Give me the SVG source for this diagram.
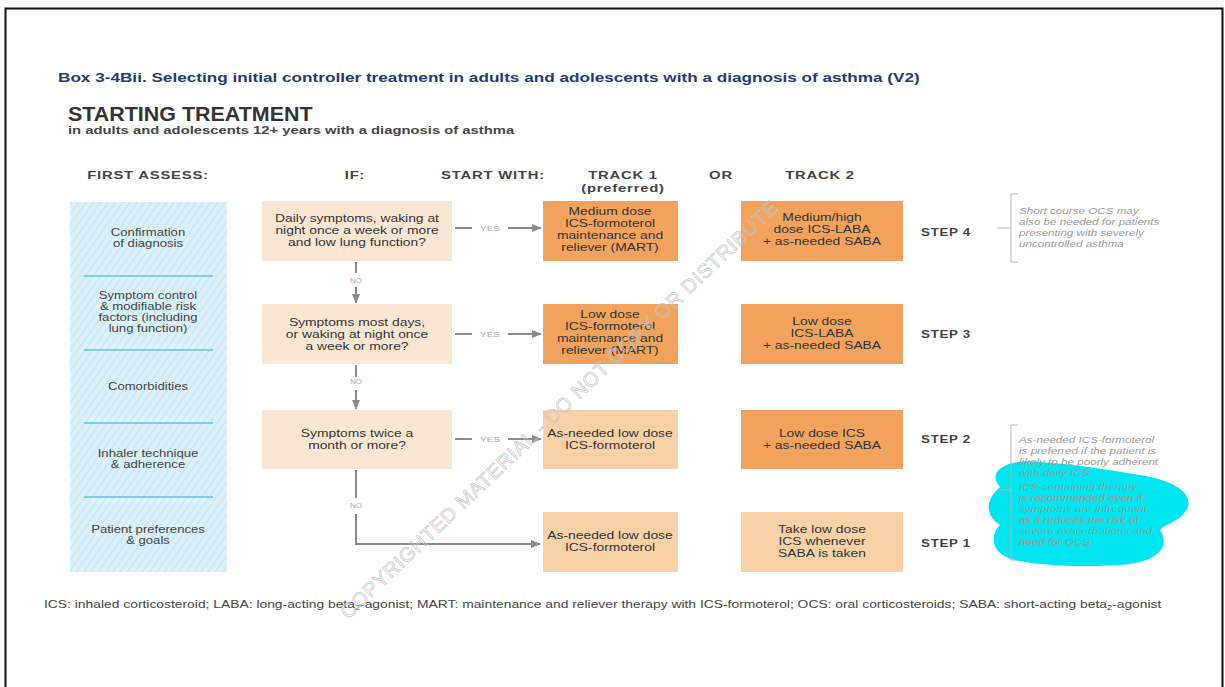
<svg xmlns="http://www.w3.org/2000/svg" width="1225" height="687" viewBox="0 0 1225 687">
<defs>
<pattern id="hatch" width="6" height="6" patternUnits="userSpaceOnUse" patternTransform="rotate(35)">
<rect width="6" height="6" fill="#dcf0fa"/>
<line x1="0" y1="0" x2="0" y2="6" stroke="#c3e4f4" stroke-width="2"/>
</pattern>
<marker id="arr" markerWidth="10" markerHeight="8" refX="9" refY="4" orient="auto" markerUnits="userSpaceOnUse">
<path d="M0,0 L10,4 L0,8 Z" fill="#8a8a8a"/>
</marker>
<style>
text{font-family:"Liberation Sans",Arial,sans-serif}
.box{fill:#333;font-size:11px;text-anchor:middle}
.hdr{fill:#444;font-size:11.5px;font-weight:bold;text-anchor:middle;letter-spacing:0.6px}
.step{fill:#444;font-size:11.5px;font-weight:bold;text-anchor:middle;letter-spacing:0.6px}
.lab{fill:#444;font-size:10.5px;text-anchor:middle}
.q{fill:#fbe6d3}
.dark{fill:#f1a25c}
.light{fill:#f8d2a6}
.yn{fill:#aaa;font-size:8px;text-anchor:middle}
.con{stroke:#8a8a8a;stroke-width:2;fill:none}
.sep{stroke:#5fc3e4;stroke-width:1.5}
.note{fill:#9a9a9a;font-size:8.5px;font-style:italic}
.br{stroke:#b5b5b5;stroke-width:1;fill:none}
</style>
</defs>
<rect x="0" y="0" width="1225" height="687" fill="#fff"/>
<path d="M5.5,700 V8.5 H1222.5 V700" fill="none" stroke="#111" stroke-width="2"/>

<g id="title">
<text transform="translate(58,82) scale(1.32,1)" font-size="13" font-weight="bold" fill="#1f3b78">Box 3-4Bii. Selecting initial controller treatment in adults and adolescents with a diagnosis of asthma (V2)</text>
<text transform="translate(68,121) scale(1.1,1)" font-size="19.5" font-weight="bold" fill="#333">STARTING TREATMENT</text>
<text transform="translate(68,134) scale(1.41,1)" font-size="10.5" font-weight="bold" fill="#444">in adults and adolescents 12+ years with a diagnosis of asthma</text>
</g>

<g id="headers">
<text class="hdr" transform="translate(148,179) scale(1.29,1)">FIRST ASSESS:</text>
<text class="hdr" transform="translate(355,179) scale(1.29,1)">IF:</text>
<text class="hdr" transform="translate(493,179) scale(1.29,1)">START WITH:</text>
<text class="hdr" transform="translate(623,179) scale(1.29,1)">TRACK 1</text>
<text class="hdr" transform="translate(623,192) scale(1.29,1)">(preferred)</text>
<text class="hdr" transform="translate(721,179) scale(1.29,1)">OR</text>
<text class="hdr" transform="translate(820,179) scale(1.29,1)">TRACK 2</text>
</g>

<g id="assess">
<rect x="70" y="202" width="157" height="370" fill="url(#hatch)"/>
<line class="sep" x1="84" y1="276" x2="213" y2="276"/>
<line class="sep" x1="84" y1="350" x2="213" y2="350"/>
<line class="sep" x1="84" y1="423" x2="213" y2="423"/>
<line class="sep" x1="84" y1="497" x2="213" y2="497"/>
<g transform="translate(148,0) scale(1.25,1)">
<text class="lab" x="0" y="236">Confirmation</text>
<text class="lab" x="0" y="247">of diagnosis</text>
<text class="lab" x="0" y="299">Symptom control</text>
<text class="lab" x="0" y="310">&amp; modifiable risk</text>
<text class="lab" x="0" y="321">factors (including</text>
<text class="lab" x="0" y="332">lung function)</text>
<text class="lab" x="0" y="390">Comorbidities</text>
<text class="lab" x="0" y="457">Inhaler technique</text>
<text class="lab" x="0" y="468">&amp; adherence</text>
<text class="lab" x="0" y="533">Patient preferences</text>
<text class="lab" x="0" y="544">&amp; goals</text>
</g>
</g>

<g id="connectors">
<line class="con" x1="356" y1="262" x2="356" y2="273"/>
<text class="yn" x="356" y="283">NO</text>
<line class="con" x1="356" y1="287" x2="356" y2="303" marker-end="url(#arr)"/>
<line class="con" x1="356" y1="365" x2="356" y2="377"/>
<text class="yn" x="356" y="384">NO</text>
<line class="con" x1="356" y1="390" x2="356" y2="409" marker-end="url(#arr)"/>
<line class="con" x1="356" y1="470" x2="356" y2="498"/>
<text class="yn" x="356" y="508">NO</text>
<path class="con" d="M356,514 V544 H540" marker-end="url(#arr)"/>
<line class="con" x1="455" y1="228" x2="472" y2="228"/>
<text class="yn" transform="translate(490,231) scale(1.25,1)">YES</text>
<line class="con" x1="508" y1="228" x2="541" y2="228" marker-end="url(#arr)"/>
<line class="con" x1="455" y1="334" x2="472" y2="334"/>
<text class="yn" transform="translate(490,337) scale(1.25,1)">YES</text>
<line class="con" x1="508" y1="334" x2="541" y2="334" marker-end="url(#arr)"/>
<line class="con" x1="455" y1="439" x2="472" y2="439"/>
<text class="yn" transform="translate(490,442) scale(1.25,1)">YES</text>
<line class="con" x1="508" y1="439" x2="541" y2="439" marker-end="url(#arr)"/>
</g>

<g id="if1"><rect class="q" x="262" y="201" width="190" height="60"/>
<g transform="translate(357,0) scale(1.26,1)">
<text class="box" x="0" y="222">Daily symptoms, waking at</text>
<text class="box" x="0" y="234">night once a week or more</text>
<text class="box" x="0" y="246">and low lung function?</text></g></g>
<g id="if2"><rect class="q" x="262" y="304" width="190" height="60"/>
<g transform="translate(357,0) scale(1.26,1)">
<text class="box" x="0" y="326">Symptoms most days,</text>
<text class="box" x="0" y="338">or waking at night once</text>
<text class="box" x="0" y="350">a week or more?</text></g></g>
<g id="if3"><rect class="q" x="262" y="410" width="190" height="59"/>
<g transform="translate(357,0) scale(1.26,1)">
<text class="box" x="0" y="437">Symptoms twice a</text>
<text class="box" x="0" y="449">month or more?</text></g></g>

<g id="t1s4"><rect class="dark" x="543" y="201" width="135" height="60"/>
<g transform="translate(610,0) scale(1.26,1)">
<text class="box" x="0" y="215">Medium dose</text>
<text class="box" x="0" y="227">ICS-formoterol</text>
<text class="box" x="0" y="239">maintenance and</text>
<text class="box" x="0" y="251">reliever (MART)</text></g></g>
<g id="t1s3"><rect class="dark" x="543" y="304" width="135" height="60"/>
<g transform="translate(610,0) scale(1.26,1)">
<text class="box" x="0" y="318">Low dose</text>
<text class="box" x="0" y="330">ICS-formoterol</text>
<text class="box" x="0" y="342">maintenance and</text>
<text class="box" x="0" y="354">reliever (MART)</text></g></g>
<g id="t1s2"><rect class="light" x="543" y="410" width="135" height="59"/>
<g transform="translate(610,0) scale(1.26,1)">
<text class="box" x="0" y="437">As-needed low dose</text>
<text class="box" x="0" y="449">ICS-formoterol</text></g></g>
<g id="t1s1"><rect class="light" x="543" y="512" width="135" height="60"/>
<g transform="translate(610,0) scale(1.26,1)">
<text class="box" x="0" y="539">As-needed low dose</text>
<text class="box" x="0" y="551">ICS-formoterol</text></g></g>

<g id="t2s4"><rect class="dark" x="741" y="201" width="162" height="60"/>
<g transform="translate(822,0) scale(1.26,1)">
<text class="box" x="0" y="221">Medium/high</text>
<text class="box" x="0" y="233">dose ICS-LABA</text>
<text class="box" x="0" y="245">+ as-needed SABA</text></g></g>
<g id="t2s3"><rect class="dark" x="741" y="304" width="162" height="60"/>
<g transform="translate(822,0) scale(1.26,1)">
<text class="box" x="0" y="325">Low dose</text>
<text class="box" x="0" y="337">ICS-LABA</text>
<text class="box" x="0" y="349">+ as-needed SABA</text></g></g>
<g id="t2s2"><rect class="dark" x="741" y="410" width="162" height="59"/>
<g transform="translate(822,0) scale(1.26,1)">
<text class="box" x="0" y="437">Low dose ICS</text>
<text class="box" x="0" y="449">+ as-needed SABA</text></g></g>
<g id="t2s1"><rect class="light" x="741" y="512" width="162" height="60"/>
<g transform="translate(822,0) scale(1.26,1)">
<text class="box" x="0" y="533">Take low dose</text>
<text class="box" x="0" y="545">ICS whenever</text>
<text class="box" x="0" y="557">SABA is taken</text></g></g>

<g id="steps">
<g transform="translate(946,0) scale(1.16,1)">
<text class="step" x="0" y="236">STEP 4</text>
<text class="step" x="0" y="338">STEP 3</text>
<text class="step" x="0" y="443">STEP 2</text>
<text class="step" x="0" y="547">STEP 1</text>
</g>
</g>

<g id="note1">
<path class="br" d="M1018,194 H1011 V262 H1018 M997,228 H1011"/>
<g transform="translate(1019,0) scale(1.37,1)">
<text class="note" x="0" y="214">Short course OCS may</text>
<text class="note" x="0" y="225">also be needed for patients</text>
<text class="note" x="0" y="236">presenting with severely</text>
<text class="note" x="0" y="247">uncontrolled asthma</text>
</g>
</g>

<g id="note2">
<path d="M1000,487 C985,470 1010,458 1040,462 C1080,465 1110,470 1140,475 C1185,482 1195,500 1185,512 C1178,522 1165,524 1160,530 C1170,545 1160,560 1130,564 C1090,568 1040,566 1015,560 C990,554 990,535 1000,525 C985,515 985,500 1000,487 Z" fill="#00e6f0"/>
<path class="br" d="M1018,425 H1011 V560 H1018 M997,490 H1011"/>
<g transform="translate(1019,0) scale(1.37,1)">
<text class="note" x="0" y="443">As-needed ICS-formoterol</text>
<text class="note" x="0" y="454">is preferred if the patient is</text>
<text class="note" x="0" y="465">likely to be poorly adherent</text>
<text class="note" x="0" y="476">with daily ICS</text>
<text class="note" x="0" y="490">ICS-containing therapy</text>
<text class="note" x="0" y="501">is recommended even if</text>
<text class="note" x="0" y="512">symptoms are infrequent,</text>
<text class="note" x="0" y="523">as it reduces the risk of</text>
<text class="note" x="0" y="534">severe exacerbations and</text>
<text class="note" x="0" y="545">need for OCS.</text>
</g>
</g>

<text transform="translate(44,608) scale(1.32,1)" font-size="10.5" fill="#444">ICS: inhaled corticosteroid; LABA: long-acting beta<tspan font-size="7" dy="2">2</tspan><tspan dy="-2">-agonist; MART: maintenance and reliever therapy with ICS-formoterol; OCS: oral corticosteroids; SABA: short-acting beta</tspan><tspan font-size="7" dy="2">2</tspan><tspan dy="-2">-agonist</tspan></text>

<g id="watermark">
<text x="0" y="0" transform="translate(348,620) rotate(-43.6)" font-size="20" fill="none" stroke="#c4c4c4" stroke-width="0.7" letter-spacing="0.6">COPYRIGHTED MATERIAL - DO NOT COPY OR DISTRIBUTE</text>
</g>
</svg>
